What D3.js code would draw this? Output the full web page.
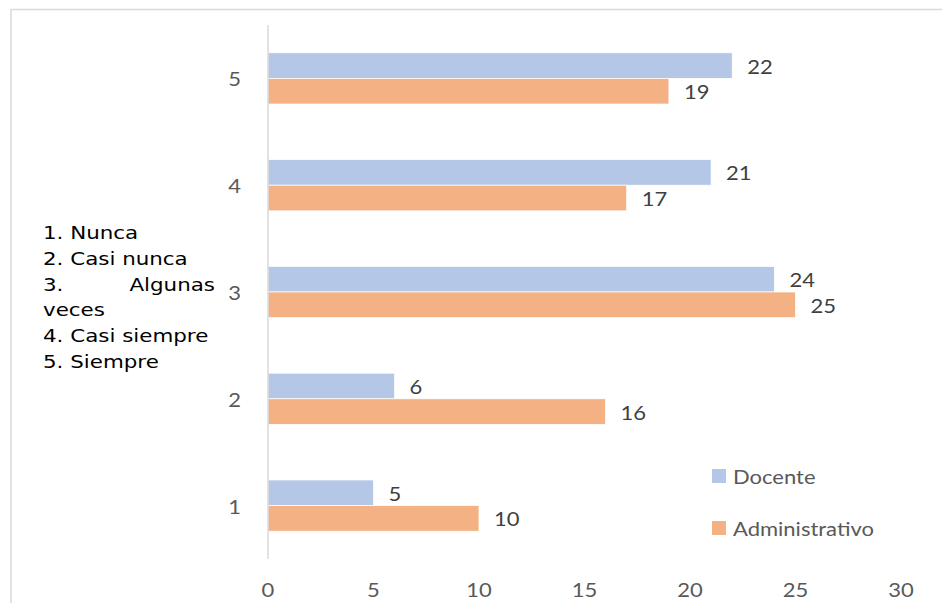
<!DOCTYPE html>
<html>
<head>
<meta charset="utf-8">
<script src="https://cdn.jsdelivr.net/npm/d3@7/dist/d3.min.js"></script>
<style>
  html, body { margin: 0; padding: 0; background: #fff; }
  svg { display: block; }
</style>
</head>
<body>
<svg id="chart" width="942" height="603"></svg>
<script>
// Response categories (1 = Nunca ... 5 = Siempre)
const categories = ["1", "2", "3", "4", "5"];
const docente = [5, 6, 24, 21, 22];
const administrativo = [10, 16, 25, 17, 19];
const seriesNames = ["Docente", "Administrativo"];
const seriesColors = ["#B4C7E7", "#F4B183"];
const xTicks = [0, 5, 10, 15, 20, 25, 30];
const scaleLines = ["1. Nunca", "2. Casi nunca", null, "veces", "4. Casi siempre", "5. Siempre"];

const svg = d3.select("#chart");
const W = 942, H = 603;

// text is set slightly wide
const SX = 1.1;
const labelFont = "Lato, 'Open Sans', sans-serif";
const labelSize = 20;

function wideText(parent, px, py, str, opts = {}) {
  const t = parent.append("text")
    .attr("transform", `translate(${px},${py}) scale(${opts.sx || SX},1)`)
    .attr("font-family", opts.family || labelFont)
    .attr("font-size", opts.size || labelSize)
    .attr("fill", opts.fill || "#595959")
    .attr("text-anchor", opts.anchor || "start")
    .text(str);
  if (opts.dy) t.attr("dy", opts.dy);
  return t;
}

// chart frame
svg.append("rect")
  .attr("x", 11).attr("y", 9.5)
  .attr("width", W + 20).attr("height", H + 20)
  .attr("fill", "#fff").attr("stroke", "#D9D9D9").attr("stroke-width", 1.5);

const x = d3.scaleLinear().domain([0, 30]).range([268, 901]);
const y = d3.scaleBand()
  .domain(categories.slice().reverse())
  .range([25, 559])
  .paddingInner(0.52)
  .paddingOuter(0.26);
const sub = d3.scaleBand().domain(seriesNames).range([0, y.bandwidth()]);

const rows = categories.map((c, i) => ({ cat: c, vals: [docente[i], administrativo[i]] }));

// bars and value labels
const g = svg.append("g");
rows.forEach(r => {
  r.vals.forEach((v, j) => {
    const yy = y(r.cat) + sub(seriesNames[j]);
    g.append("rect")
      .attr("x", x(0))
      .attr("y", yy)
      .attr("width", x(v) - x(0))
      .attr("height", sub.bandwidth())
      .attr("fill", seriesColors[j])
      .attr("stroke", "#fff").attr("stroke-width", 0.75);
    wideText(g, x(v) + 15, yy + sub.bandwidth() / 2 + 1, v, { dy: "0.35em", fill: "#404040" });
  });
});

// category axis line
svg.append("line")
  .attr("x1", x(0)).attr("x2", x(0))
  .attr("y1", 25).attr("y2", 559)
  .attr("stroke", "#D9D9D9").attr("stroke-width", 1.5);

// category labels
const ya = svg.append("g");
y.domain().forEach(c => {
  wideText(ya, x(0) - 27, y(c) + y.bandwidth() / 2 + 1, c, { anchor: "end", dy: "0.35em" });
});

// value axis labels
const xa = svg.append("g");
xTicks.forEach(t => {
  wideText(xa, x(t), 590, t, { anchor: "middle", dy: "0.35em" });
});

// legend
const lg = svg.append("g");
seriesNames.forEach((n, i) => {
  const ly = 476 + i * 52;
  lg.append("rect").attr("x", 712).attr("y", ly - 7).attr("width", 14).attr("height", 14)
    .attr("fill", seriesColors[i]);
  wideText(lg, 733, ly + 1, n, { dy: "0.35em" });
});

// scale description
const desc = svg.append("g");
const dOpts = { family: "'DejaVu Sans', Verdana, sans-serif", size: 17.7, sx: 1.21, fill: "#000" };
scaleLines.forEach((t, i) => {
  const by = 239 + i * 25.8;
  if (t === null) {
    wideText(desc, 43, by, "3.", dOpts);
    wideText(desc, 215, by, "Algunas", Object.assign({}, dOpts, { anchor: "end" }));
  } else {
    wideText(desc, 43, by, t, dOpts);
  }
});
</script>
</body>
</html>
